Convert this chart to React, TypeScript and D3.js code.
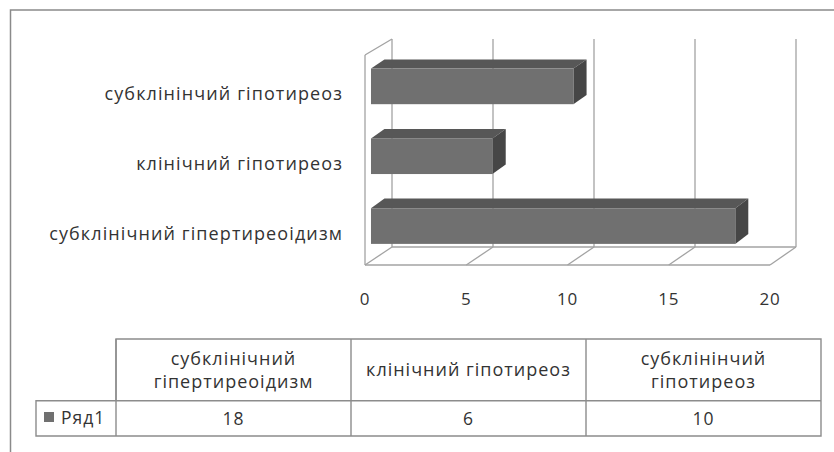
import React from "react";
import * as d3 from "d3";

const categories = ["субклінічний гіпертиреоідизм", "клінічний гіпотиреоз", "субклінінчий гіпотиреоз"];
const values = [18, 6, 10];
const seriesName = "Ряд1";
const ticks = [0, 5, 10, 15, 20];

const W = 834;
const H = 452;
const FONT = "'Open Sans', sans-serif";
const TXT = "#333333";
const GRID = "#a3a3a3";

export default function App() {
  // 3D box: front plane and back plane
  const front = { x0: 365, x1: 770, y0: 55, y1: 265 };
  const back = { x0: 392, x1: 796, y0: 39, y1: 247 };
  const xF = d3.scaleLinear().domain([0, 20]).range([front.x0, front.x1]);
  const xB = d3.scaleLinear().domain([0, 20]).range([back.x0, back.x1]);
  const lerp = (a: number, b: number, t: number) => a + (b - a) * t;
  const xAt = (v: number, t: number) => lerp(xF(v), xB(v), t);
  const order = [...categories].reverse(); // top to bottom
  const bandAt = (t: number) =>
    d3
      .scaleBand<string>()
      .domain(order)
      .range([lerp(front.y0, back.y0, t), lerp(front.y1, back.y1, t)])
      .paddingInner(0.49)
      .paddingOuter(0.245);
  const t0 = 0.222;
  const t1 = 0.72;
  const bF = bandAt(t0);
  const bB = bandAt(t1);
  const yLabel = d3.scaleBand<string>().domain(order).range([front.y0, front.y1]);

  // table geometry
  const tbl = { legendX: 36, x0: 116, x1: 821, yTop: 339, yMid: 400.7, yBot: 436 };
  const colX = d3.scaleBand<string>().domain(categories).range([tbl.x0, tbl.x1]);
  const wrap = (s: string) => (s.length > 21 ? s.split(" ") : [s]);

  return (
    <svg
      width={W}
      height={H}
      style={{ position: "fixed", left: 0, top: 0, background: "#fff" }}
      fontFamily={FONT}
    >
      <rect width={W} height={H} fill="#fff" />
      {/* outer frame */}
      <path d={`M10.5,${H} L10.5,10 L${W},10`} fill="none" stroke="#8a8a8a" strokeWidth={1.5} />

      {/* back wall gridlines */}
      {ticks.map((t) => (
        <line key={"g" + t} x1={xB(t)} x2={xB(t)} y1={back.y0} y2={back.y1} stroke={GRID} strokeWidth={1.3} />
      ))}
      {/* left wall */}
      <line x1={front.x0} x2={front.x0} y1={front.y0} y2={front.y1} stroke={GRID} strokeWidth={1.3} />
      <line x1={front.x0} x2={back.x0} y1={front.y0} y2={back.y0} stroke={GRID} strokeWidth={1.3} />
      {/* floor */}
      <line x1={front.x0} x2={front.x1} y1={front.y1} y2={front.y1} stroke={GRID} strokeWidth={1.3} />
      <line x1={back.x0} x2={back.x1} y1={back.y1} y2={back.y1} stroke={GRID} strokeWidth={1.3} />
      {ticks.map((t) => (
        <line key={"d" + t} x1={xF(t)} x2={xB(t)} y1={front.y1} y2={back.y1} stroke={GRID} strokeWidth={1.3} />
      ))}

      {/* bars */}
      {categories.map((c, i) => {
        const v = values[i];
        const fx0 = xAt(0, t0);
        const fx1 = xAt(v, t0);
        const bx0 = xAt(0, t1);
        const bx1 = xAt(v, t1);
        const fy0 = bF(c)!;
        const fy1 = fy0 + bF.bandwidth();
        const by0 = bB(c)! - 1;
        const by1 = by0 + bB.bandwidth();
        return (
          <g key={c}>
            <polygon points={`${fx0},${fy0} ${bx0},${by0} ${bx1},${by0} ${fx1},${fy0}`} fill="#575757" />
            <polygon points={`${fx1},${fy0} ${bx1},${by0} ${bx1},${by1} ${fx1},${fy1}`} fill="#464646" />
            <rect x={fx0} y={fy0} width={fx1 - fx0} height={fy1 - fy0} fill="#707070" />
          </g>
        );
      })}

      {/* category labels */}
      {order.map((c) => (
        <text
          key={"l" + c}
          x={343}
          y={yLabel(c)! + yLabel.bandwidth() / 2 + 9.5}
          textAnchor="end"
          fontSize={18}
          letterSpacing={1.1}
          fill={TXT}
        >
          {c}
        </text>
      ))}

      {/* tick labels */}
      {ticks.map((t) => (
        <text key={"t" + t} x={xF(t)} y={305} textAnchor="middle" fontSize={17} letterSpacing={0.8} fill={TXT}>
          {t}
        </text>
      ))}

      {/* data table */}
      <g fill="none" stroke="#8c8c8c" strokeWidth={1.4}>
        <path
          d={`M${tbl.x0},${tbl.yMid} L${tbl.x0},${tbl.yTop} L${tbl.x1},${tbl.yTop} L${tbl.x1},${tbl.yBot} L${tbl.legendX},${tbl.yBot} L${tbl.legendX},${tbl.yMid} L${tbl.x1},${tbl.yMid}`}
        />
        {categories.map((c) => (
          <line key={"v" + c} x1={colX(c)} x2={colX(c)} y1={tbl.yTop} y2={tbl.yBot} />
        ))}
      </g>
      {categories.map((c, i) => {
        const lines = wrap(c);
        const cx = colX(c)! + colX.bandwidth() / 2;
        const mid = (tbl.yTop + tbl.yMid) / 2 + 6.5;
        return (
          <g key={"h" + c}>
            {lines.map((ln, j) => (
              <text
                key={j}
                x={cx}
                y={mid + (j - (lines.length - 1) / 2) * 22.5}
                textAnchor="middle"
                fontSize={18}
                letterSpacing={1}
                fill={TXT}
              >
                {ln}
              </text>
            ))}
            <text x={cx} y={(tbl.yMid + tbl.yBot) / 2 + 6.5} textAnchor="middle" fontSize={17.5} letterSpacing={0.9} fill={TXT}>
              {values[i]}
            </text>
          </g>
        );
      })}
      <rect x={44} y={412} width={10} height={10} fill="#707070" />
      <text x={61} y={424} fontSize={17.5} letterSpacing={1} fill={TXT}>
        {seriesName}
      </text>
    </svg>
  );
}
